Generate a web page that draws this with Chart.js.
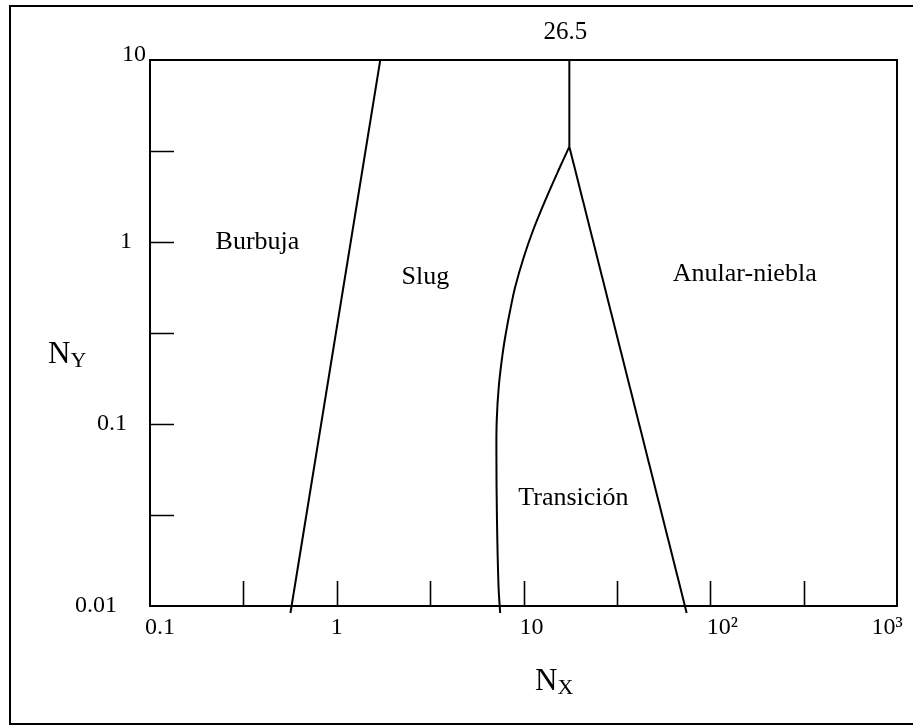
<!DOCTYPE html>
<html><head><meta charset="utf-8">
<script src="https://cdn.jsdelivr.net/npm/chart.js@4/dist/chart.umd.min.js"></script>
<style>html,body{margin:0;padding:0;background:#fff}#wrap{position:relative;width:913px;height:726px}</style>
</head><body><div id="wrap"><canvas id="c" width="913" height="726"></canvas></div>
<script>
// ---- data ----
const xTickValues = [0.1, 1, 10, 100, 1000];
const xTickLabels = ['0.1', '1', '10', '10²', '10³'];
const xMinorTicks = [0.316, 1, 3.16, 10, 31.6, 100, 316];
const yTickValues = [0.01, 0.1, 1, 10];
const yTickLabels = ['0.01', '0.1', '1', '10'];
const yMinorTicks = [0.0316, 0.1, 0.316, 1, 3.16];

const bubbleSlugX = [0.565, 1.71];
const bubbleSlugY = [0.00915, 10];
const verticalX = [17.6, 17.6];
const verticalY = [10, 3.34];
const transitionLeftX = [17.6, 15.7, 13.1, 11.27, 10.05, 9.03, 8.49, 8.10, 7.74, 7.37, 7.19, 7.16, 7.21, 7.35, 7.50];
const transitionLeftY = [3.34, 2.59, 1.70, 1.164, 0.83, 0.568, 0.423, 0.328, 0.2455, 0.160, 0.105, 0.0693, 0.0297, 0.0128, 0.00915];
const transitionRightX = [17.6, 74.8];
const transitionRightY = [3.34, 0.00915];

const regionNames = ['Burbuja', 'Slug', 'Anular-niebla', 'Transición'];
const regionX = [0.376, 2.98, 153, 18.5];
const regionY = [1.0, 0.643, 0.667, 0.0392];
const topMarkLabel = '26.5';
const xTitle = ['N', 'X'];
const yTitle = ['N', 'Y'];

// ---- helpers ----
const pts = (xs, ys) => xs.map((x, i) => ({x: x, y: ys[i]}));
const FONT = '"Liberation Serif", "Times New Roman", serif';
function lineDs(xs, ys, tension) {
  return {data: pts(xs, ys), showLine: true, borderColor: '#000', borderWidth: 2,
          pointRadius: 0, tension: tension || 0, fill: false, clip: 14};
}

const decor = {
  id: 'decor',
  afterDatasetsDraw(chart) {
    const ctx = chart.ctx, a = chart.chartArea;
    const xs = chart.scales.x, ys = chart.scales.y;
    ctx.save();
    ctx.strokeStyle = '#000';
    ctx.fillStyle = '#000';
    // outer frame
    ctx.lineWidth = 2;
    ctx.strokeRect(10, 6, 940, 718);
    // plot frame
    ctx.strokeRect(a.left, a.top, a.right - a.left, a.bottom - a.top);
    // minor ticks (inward)
    ctx.lineWidth = 1.6;
    ctx.beginPath();
    xMinorTicks.forEach(v => {
      const p = Math.round(xs.getPixelForValue(v)) + 0.5;
      ctx.moveTo(p, a.bottom); ctx.lineTo(p, a.bottom - 25);
    });
    yMinorTicks.forEach(v => {
      const p = Math.round(ys.getPixelForValue(v)) + 0.5;
      ctx.moveTo(a.left, p); ctx.lineTo(a.left + 24, p);
    });
    ctx.stroke();
    // x tick labels
    const xOff = [10, 0, 8, 12, -10];
    ctx.font = '24px ' + FONT;
    ctx.textAlign = 'center';
    ctx.textBaseline = 'middle';
    xTickValues.forEach((v, i) => {
      ctx.fillText(xTickLabels[i], xs.getPixelForValue(v) + xOff[i], a.bottom + 22);
    });
    // y tick labels
    const yRight = [117, 127, 132, 146];
    const yOff = [0, 0, 0, -5];
    ctx.textAlign = 'right';
    yTickValues.forEach((v, i) => {
      ctx.fillText(yTickLabels[i], yRight[i], ys.getPixelForValue(v) + yOff[i]);
    });
    // top mark label
    ctx.font = '25px ' + FONT;
    ctx.textAlign = 'center';
    ctx.fillText(topMarkLabel, xs.getPixelForValue(verticalX[0]) - 4, a.top - 28);
    // region labels
    ctx.font = '26px ' + FONT;
    regionNames.forEach((n, i) => {
      ctx.fillText(n, xs.getPixelForValue(regionX[i]), ys.getPixelForValue(regionY[i]));
    });
    // axis titles
    ctx.textAlign = 'left';
    ctx.textBaseline = 'alphabetic';
    function title(parts, x, y) {
      ctx.font = '31px ' + FONT;
      ctx.fillText(parts[0], x, y);
      const w = ctx.measureText(parts[0]).width;
      ctx.font = '22px ' + FONT;
      ctx.fillText(parts[1], x + w, y + 4);
    }
    title(xTitle, 535, 690);
    title(yTitle, 48, 363);
    ctx.restore();
  }
};

new Chart(document.getElementById('c'), {
  type: 'scatter',
  data: {datasets: [
    lineDs(bubbleSlugX, bubbleSlugY),
    lineDs(verticalX, verticalY),
    lineDs(transitionLeftX, transitionLeftY, 0.4),
    lineDs(transitionRightX, transitionRightY)
  ]},
  options: {
    responsive: false,
    animation: false,
    events: [],
    layout: {padding: {left: 150, right: 16, top: 60, bottom: 120}},
    plugins: {legend: {display: false}, tooltip: {enabled: false}},
    scales: {
      x: {type: 'logarithmic', min: 0.1, max: 1000, display: false},
      y: {type: 'logarithmic', min: 0.01, max: 10, display: false}
    }
  },
  plugins: [decor]
});
</script>
</body></html>
